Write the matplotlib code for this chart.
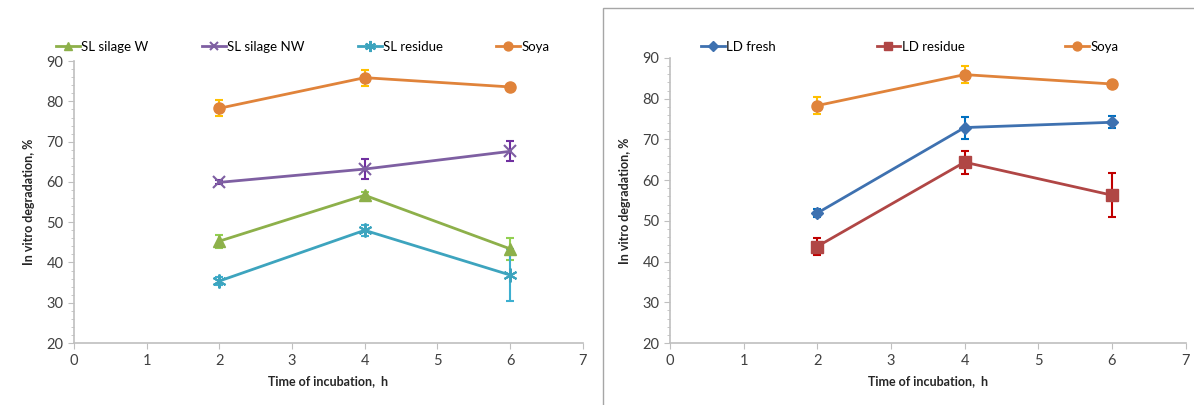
import matplotlib
matplotlib.use("Agg")
import matplotlib.pyplot as plt
from matplotlib.patches import Rectangle
from matplotlib.ticker import MultipleLocator

plt.rcParams['font.family'] = ['Lato', 'DejaVu Sans']

# data
hours = [2, 4, 6]

soya = [78.3, 85.9, 83.6]
soya_err = [2.0, 2.0, 0.6]

sl_w = [45.3, 56.7, 43.4]
sl_w_err = [1.6, 0.8, 2.7]
sl_nw = [59.9, 63.2, 67.6]
sl_nw_err = [0.5, 2.5, 2.5]
sl_res = [35.4, 48.0, 36.9]
sl_res_err = [1.0, 1.3, 6.5]

ld_fresh = [51.9, 72.9, 74.2]
ld_fresh_err = [1.0, 2.7, 1.5]
ld_res = [43.7, 64.4, 56.3]
ld_res_err = [2.0, 2.8, 5.4]

left_series = [
    ("SL silage W", sl_w, sl_w_err, "#8DB04A", "#92D050", "^", 8),
    ("SL silage NW", sl_nw, sl_nw_err, "#7E5FA2", "#7030A0", "x", 8),
    ("SL residue", sl_res, sl_res_err, "#3DA4BE", "#3DAFD0", (6, 2, 0), 10),
    ("Soya", soya, soya_err, "#E0833A", "#FFC000", "o", 8),
]
right_series = [
    ("LD fresh", ld_fresh, ld_fresh_err, "#3E71B0", "#0070C0", "D", 6),
    ("LD residue", ld_res, ld_res_err, "#B04645", "#C00000", "s", 8),
    ("Soya", soya, soya_err, "#E0833A", "#FFC000", "o", 8),
]

fig = plt.figure(figsize=(11.94, 4.05), dpi=100)
ax1 = fig.add_axes([0.062, 0.153, 0.426, 0.696])
ax2 = fig.add_axes([0.561, 0.153, 0.432, 0.704])

# frame around right panel
fig.add_artist(Rectangle((603 / 1194, -0.01), 0.6, 1 - 8 / 405 + 0.01,
                         transform=fig.transFigure, fill=False,
                         edgecolor="#A6A6A6", linewidth=1.0))


def draw(ax, series, ncol, legend_box):
    for name, vals, err, col, ecol, mk, ms in series:
        ax.errorbar(hours, vals, yerr=err, fmt="none", ecolor=ecol,
                    elinewidth=1.5, capsize=3, capthick=1.5, zorder=2)
        ax.plot(hours, vals, color=col, marker=mk, markersize=ms,
                linewidth=2, label=name, zorder=3,
                markeredgewidth=1.5 if mk in ("x", (6, 2, 0)) else 1)
    ax.set_xlim(0, 7)
    ax.set_ylim(20, 90)
    ax.xaxis.set_major_locator(MultipleLocator(1))
    ax.yaxis.set_major_locator(MultipleLocator(10))
    ax.yaxis.set_minor_locator(MultipleLocator(2))
    for s in ("top", "right"):
        ax.spines[s].set_visible(False)
    for s in ("left", "bottom"):
        ax.spines[s].set_color("#BFBFBF")
        ax.spines[s].set_linewidth(1.2)
    ax.tick_params(which="both", colors="#BFBFBF", labelcolor="#404040",
                   labelsize=10.5, direction="out")
    ax.tick_params(axis="x", length=4, pad=4)
    ax.tick_params(axis="y", which="major", length=4)
    ax.tick_params(axis="y", which="minor", length=2)
    ax.set_xlabel("Time of incubation,  h", fontsize=9, fontweight="bold",
                  color="#262626", labelpad=5)
    ax.set_ylabel("In vitro degradation, %", fontsize=9, fontweight="bold",
                  color="#262626", labelpad=8)
    ax.legend(loc="lower left", bbox_to_anchor=legend_box, mode="expand",
              ncol=ncol, frameon=False, fontsize=9.5, handlelength=1.8,
              handletextpad=0.1, markerscale=0.8, borderaxespad=0)


draw(ax1, left_series, 4, (-0.045, 1.01, 0.99, 0.08))
draw(ax2, right_series, 3, (0.05, 1.0, 0.83, 0.08))

fig.savefig("out.png", dpi=100)
